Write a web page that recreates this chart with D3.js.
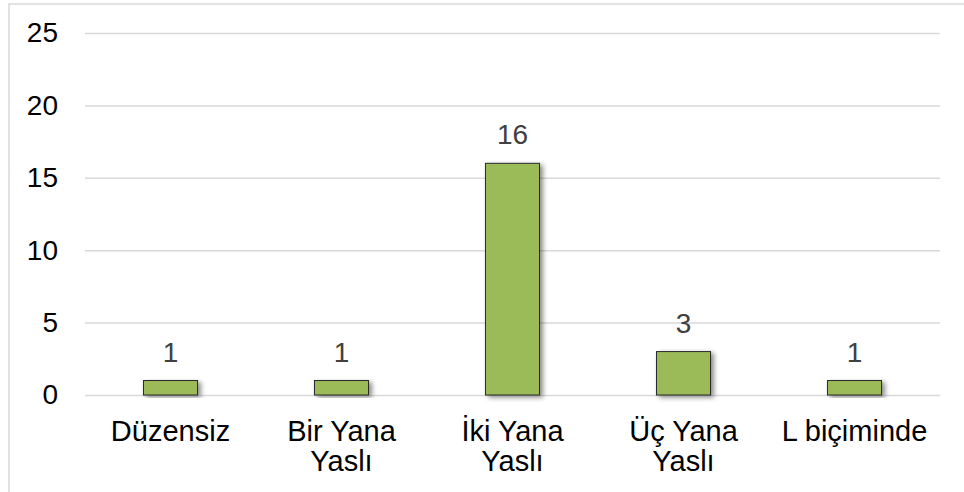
<!DOCTYPE html>
<html>
<head>
<meta charset="utf-8">
<script src="https://cdn.jsdelivr.net/npm/d3@7/dist/d3.min.js"></script>
<style>
  html, body { margin: 0; padding: 0; background: #fff; }
  svg { display: block; font-family: "Liberation Sans", Arial, sans-serif; }
</style>
</head>
<body>
<svg id="chart" width="964" height="492"></svg>
<script>
// Wall shapes and how many of each
const categories = [["Düzensiz"], ["Bir Yana", "Yaslı"], ["İki Yana", "Yaslı"], ["Üç Yana", "Yaslı"], ["L biçiminde"]];
const values = [1, 1, 16, 3, 1];
const yTicks = [0, 5, 10, 15, 20, 25];

const svg = d3.select("#chart");
const W = 964, H = 492;
const plotLeft = 85, plotRight = 940, plotTop = 33, plotBottom = 395;

// Outer frame
svg.append("rect")
  .attr("x", 9).attr("y", 4)
  .attr("width", W + 20).attr("height", H + 20)
  .attr("fill", "#fff")
  .attr("stroke", "#d9d9d9").attr("stroke-width", 1.5);

const x = d3.scaleBand()
  .domain(d3.range(categories.length))
  .range([plotLeft, plotRight])
  .paddingInner(0.684).paddingOuter(0.342);

const y = d3.scaleLinear().domain([0, 25]).range([plotBottom, plotTop]);

const defs = svg.append("defs");
const f = defs.append("filter").attr("id", "shadow")
  .attr("x", "-20%").attr("y", "-10%").attr("width", "160%").attr("height", "130%");
f.append("feDropShadow")
  .attr("dx", 3).attr("dy", 2).attr("stdDeviation", 2.5)
  .attr("flood-color", "#000").attr("flood-opacity", 0.45);

// Gridlines and y-axis labels
const yAxis = d3.axisLeft(y).tickValues(yTicks).tickSize(-(plotRight - plotLeft)).tickPadding(27);
const gy = svg.append("g").attr("transform", `translate(${plotLeft},0)`).call(yAxis);
gy.select(".domain").remove();
gy.selectAll(".tick line").attr("stroke", "#d9d9d9").attr("stroke-width", 1.5);
gy.selectAll(".tick text")
  .attr("fill", "#000").attr("font-size", 28)
  .attr("font-family", "Liberation Sans, Arial, sans-serif");

// Bars
svg.append("g").selectAll("rect").data(values).join("rect")
  .attr("x", (d, i) => x(i))
  .attr("y", d => y(d))
  .attr("width", x.bandwidth())
  .attr("height", d => y(0) - y(d))
  .attr("fill", "#9bbb59")
  .attr("stroke", "#2b2b2b").attr("stroke-width", 1)
  .attr("filter", "url(#shadow)");

// Value labels
svg.append("g").selectAll("text").data(values).join("text")
  .attr("x", (d, i) => x(i) + x.bandwidth() / 2)
  .attr("y", d => y(d) - 19)
  .attr("text-anchor", "middle")
  .attr("font-size", 28)
  .attr("fill", "#404040")
  .text(d => d);

// Category labels (wrapped)
const cat = svg.append("g").selectAll("text").data(categories).join("text")
  .attr("x", (d, i) => x(i) + x.bandwidth() / 2)
  .attr("y", 441)
  .attr("text-anchor", "middle")
  .attr("font-size", 29)
  .attr("fill", "#000");
cat.each(function(lines) {
  const t = d3.select(this);
  const cx = t.attr("x");
  lines.forEach((ln, k) => {
    t.append("tspan").attr("x", cx).attr("dy", k === 0 ? 0 : 30).text(ln);
  });
});
</script>
</body>
</html>
